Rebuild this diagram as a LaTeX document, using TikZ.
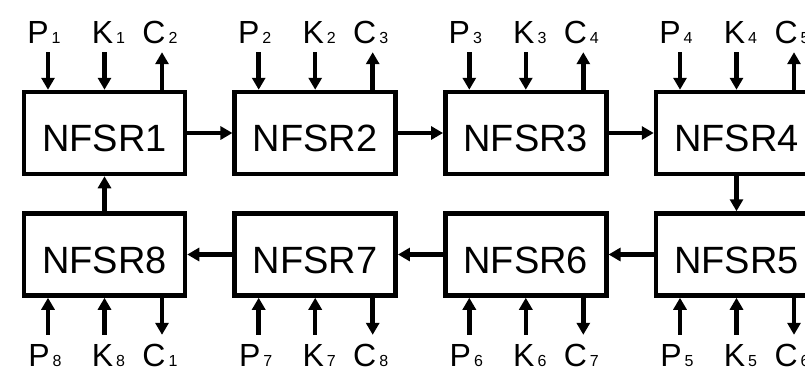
\documentclass[tikz,border=0pt]{standalone}
\usepackage{fontspec}
\setmainfont{Liberation Sans}
\usetikzlibrary{arrows.meta}
\newcommand\lsub[1]{\kern3pt{\fontsize{16}{16}\selectfont #1}}
\begin{document}
\begin{tikzpicture}[x=1pt,y=-1pt,
  box/.style={draw, line width=4.5pt, minimum width=161pt, minimum height=82pt,
    inner sep=0pt, text height=37pt, text depth=0pt, font=\fontsize{38}{38}\selectfont},
  lab/.style={inner sep=0pt, anchor=base, text height=23pt, text depth=0pt,
    font=\fontsize{32}{32}\selectfont},
  arr/.style={line width=4.5pt, -{Triangle[length=12pt,width=13pt]}},
]
\useasboundingbox (0,0) rectangle (805,376);
% boxes
\node[box] (b1) at (104.5,133) {NFSR1};
\node[box] (b2) at (315.2,133) {NFSR2};
\node[box] (b3) at (525.8,133) {NFSR3};
\node[box] (b4) at (736.5,133) {NFSR4};
\node[box] (b8) at (104.5,254.5) {NFSR8};
\node[box] (b7) at (315.2,254.5) {NFSR7};
\node[box] (b6) at (525.8,254.5) {NFSR6};
\node[box] (b5) at (736.5,254.5) {NFSR5};
% ring connections
\draw[arr] (b1) -- (b2);
\draw[arr] (b2) -- (b3);
\draw[arr] (b3) -- (b4);
\draw[arr] (b4) -- (b5);
\draw[arr] (b5) -- (b6);
\draw[arr] (b6) -- (b7);
\draw[arr] (b7) -- (b8);
\draw[arr] (b8) -- (b1);
% top inputs / outputs
\foreach \i/\X/\c in {1/104.5/2, 2/315.2/3, 3/525.8/4, 4/736.5/5}{
  \node[lab] (tp\i) at (\X-60.5,43) {P\lsub{\i}};
  \node[lab] (tk\i) at (\X+4,43) {K\lsub{\i}};
  \node[lab] (tc\i) at (\X+55.5,43) {C\lsub{\c}};
  \coordinate (ap\i) at ([xshift=-56.5pt]b\i.north);
  \coordinate (ac\i) at ([xshift=57.5pt]b\i.north);
  \draw[arr, shorten <=9pt] (tp\i.south -| ap\i) -- (ap\i);
  \draw[arr, shorten <=9pt] (tk\i.south -| b\i.north) -- (b\i.north);
  \draw[arr, shorten >=9pt] (ac\i) -- (tc\i.south -| ac\i);
}
% bottom inputs / outputs
\foreach \i/\X/\c in {8/104.5/1, 7/315.2/8, 6/525.8/7, 5/736.5/6}{
  \node[lab] (bp\i) at (\X-59.5,366) {P\lsub{\i}};
  \node[lab] (bk\i) at (\X+4,366) {K\lsub{\i}};
  \node[lab] (bc\i) at (\X+55.5,366) {C\lsub{\c}};
  \coordinate (bap\i) at ([xshift=-56.5pt]b\i.south);
  \coordinate (bac\i) at ([xshift=57.5pt]b\i.south);
  \draw[arr, shorten <=8pt] (bp\i.north -| bap\i) -- (bap\i);
  \draw[arr, shorten <=8pt] (bk\i.north -| b\i.south) -- (b\i.south);
  \draw[arr, shorten >=8pt] (bac\i) -- (bc\i.north -| bac\i);
}
\end{tikzpicture}
\end{document}
